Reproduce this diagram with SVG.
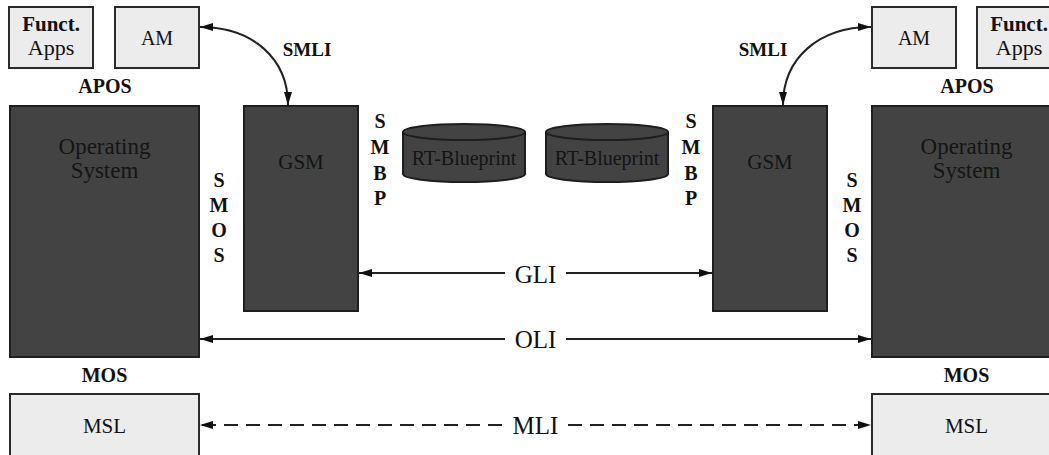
<svg xmlns="http://www.w3.org/2000/svg" width="1049" height="455" viewBox="0 0 1049 455">
<defs>
<marker id="ah" viewBox="0 0 13 8" refX="13" refY="4" markerWidth="13" markerHeight="8" markerUnits="userSpaceOnUse" orient="auto-start-reverse">
<path d="M0,0 L13,4 L0,8 z" fill="#111"/>
</marker>
</defs>
<style>
.dark{fill:#434343;stroke:#1e1e1e;stroke-width:2}
.light{fill:#ececec;stroke:#2a2a2a;stroke-width:2}
.t{font-family:"Liberation Serif",serif;text-anchor:middle;fill:#111}
.td{font-family:"Liberation Serif",serif;text-anchor:middle;fill:#141414}
.b{font-family:"Liberation Serif",serif;font-weight:bold;text-anchor:middle;fill:#111}
.ln{fill:none;stroke:#222;stroke-width:2}
.dash{stroke-dasharray:14 8}
</style>
<rect width="1049" height="455" fill="#fff"/>

<g id="funct-apps-left">
<rect class="light" x="9" y="7" width="84" height="61"/>
<text class="b" x="51" y="31" font-size="21">Funct.</text>
<text class="t" x="51" y="55" font-size="22">Apps</text>
</g>
<g id="am-left">
<rect class="light" x="115" y="7" width="84" height="61"/>
<text class="t" x="157" y="45" font-size="20">AM</text>
</g>
<g id="am-right">
<rect class="light" x="872" y="7" width="84" height="61"/>
<text class="t" x="914" y="45" font-size="20">AM</text>
</g>
<g id="funct-apps-right">
<rect class="light" x="977" y="7" width="84" height="61"/>
<text class="b" x="1019" y="31" font-size="21">Funct.</text>
<text class="t" x="1019" y="55" font-size="22">Apps</text>
</g>

<g id="os-left">
<rect class="dark" x="10" y="106" width="189" height="251"/>
<text class="td" x="104.5" y="154" font-size="23">Operating</text>
<text class="td" x="104.5" y="178" font-size="23">System</text>
</g>
<g id="os-right">
<rect class="dark" x="872" y="106" width="189" height="251"/>
<text class="td" x="966.5" y="154" font-size="23">Operating</text>
<text class="td" x="966.5" y="178" font-size="23">System</text>
</g>
<g id="gsm-left">
<rect class="dark" x="244" y="106" width="114" height="205"/>
<text class="td" x="301" y="169" font-size="21">GSM</text>
</g>
<g id="gsm-right">
<rect class="dark" x="713" y="106" width="114" height="205"/>
<text class="td" x="770" y="169" font-size="21">GSM</text>
</g>

<g id="rt-blueprint-left">
<path class="dark" d="M403,132 L403,174 A61,8 0 0 0 525,174 L525,132"/>
<ellipse class="dark" cx="464" cy="132" rx="61" ry="8"/>
<text class="td" x="464" y="165" font-size="20">RT-Blueprint</text>
</g>
<g id="rt-blueprint-right">
<path class="dark" d="M546,132 L546,174 A61,8 0 0 0 668,174 L668,132"/>
<ellipse class="dark" cx="607" cy="132" rx="61" ry="8"/>
<text class="td" x="607" y="165" font-size="20">RT-Blueprint</text>
</g>

<g id="msl-left">
<rect class="light" x="10" y="394" width="189" height="70"/>
<text class="t" x="104.5" y="433" font-size="21">MSL</text>
</g>
<g id="msl-right">
<rect class="light" x="872" y="394" width="189" height="70"/>
<text class="t" x="966.5" y="433" font-size="21">MSL</text>
</g>

<g id="labels">
<text class="b" x="105" y="93" font-size="20">APOS</text>
<text class="b" x="967" y="93" font-size="20">APOS</text>
<text class="b" x="307" y="56" font-size="19">SMLI</text>
<text class="b" x="763" y="56" font-size="19">SMLI</text>
<text class="b" x="104.5" y="382" font-size="20">MOS</text>
<text class="b" x="966.5" y="382" font-size="20">MOS</text>
<g font-size="20">
<text class="b" x="380" y="128">S</text>
<text class="b" x="380" y="154">M</text>
<text class="b" x="380" y="180">B</text>
<text class="b" x="380" y="205">P</text>
<text class="b" x="691" y="128">S</text>
<text class="b" x="691" y="154">M</text>
<text class="b" x="691" y="180">B</text>
<text class="b" x="691" y="205">P</text>
<text class="b" x="219" y="187">S</text>
<text class="b" x="219" y="212">M</text>
<text class="b" x="219" y="237">O</text>
<text class="b" x="219" y="262">S</text>
<text class="b" x="852" y="187">S</text>
<text class="b" x="852" y="212">M</text>
<text class="b" x="852" y="237">O</text>
<text class="b" x="852" y="262">S</text>
</g>
<text class="t" x="535.5" y="283" font-size="25">GLI</text>
<text class="t" x="535.5" y="348" font-size="25">OLI</text>
<text class="t" x="535.5" y="434" font-size="25">MLI</text>
</g>

<g id="connectors">
<path class="ln" d="M288,105 C288,58 252,27 200,27" marker-start="url(#ah)" marker-end="url(#ah)"/>
<path class="ln" d="M783,105 C783,58 819,27 871,27" marker-start="url(#ah)" marker-end="url(#ah)"/>
<line class="ln" x1="505" y1="273" x2="359" y2="273" marker-end="url(#ah)"/>
<line class="ln" x1="566" y1="273" x2="712" y2="273" marker-end="url(#ah)"/>
<line class="ln" x1="505" y1="339" x2="200" y2="339" marker-end="url(#ah)"/>
<line class="ln" x1="566" y1="339" x2="871" y2="339" marker-end="url(#ah)"/>
<line class="ln dash" x1="502" y1="425" x2="200" y2="425" marker-end="url(#ah)"/>
<line class="ln dash" x1="568" y1="425" x2="871" y2="425" marker-end="url(#ah)"/>
</g>
</svg>
